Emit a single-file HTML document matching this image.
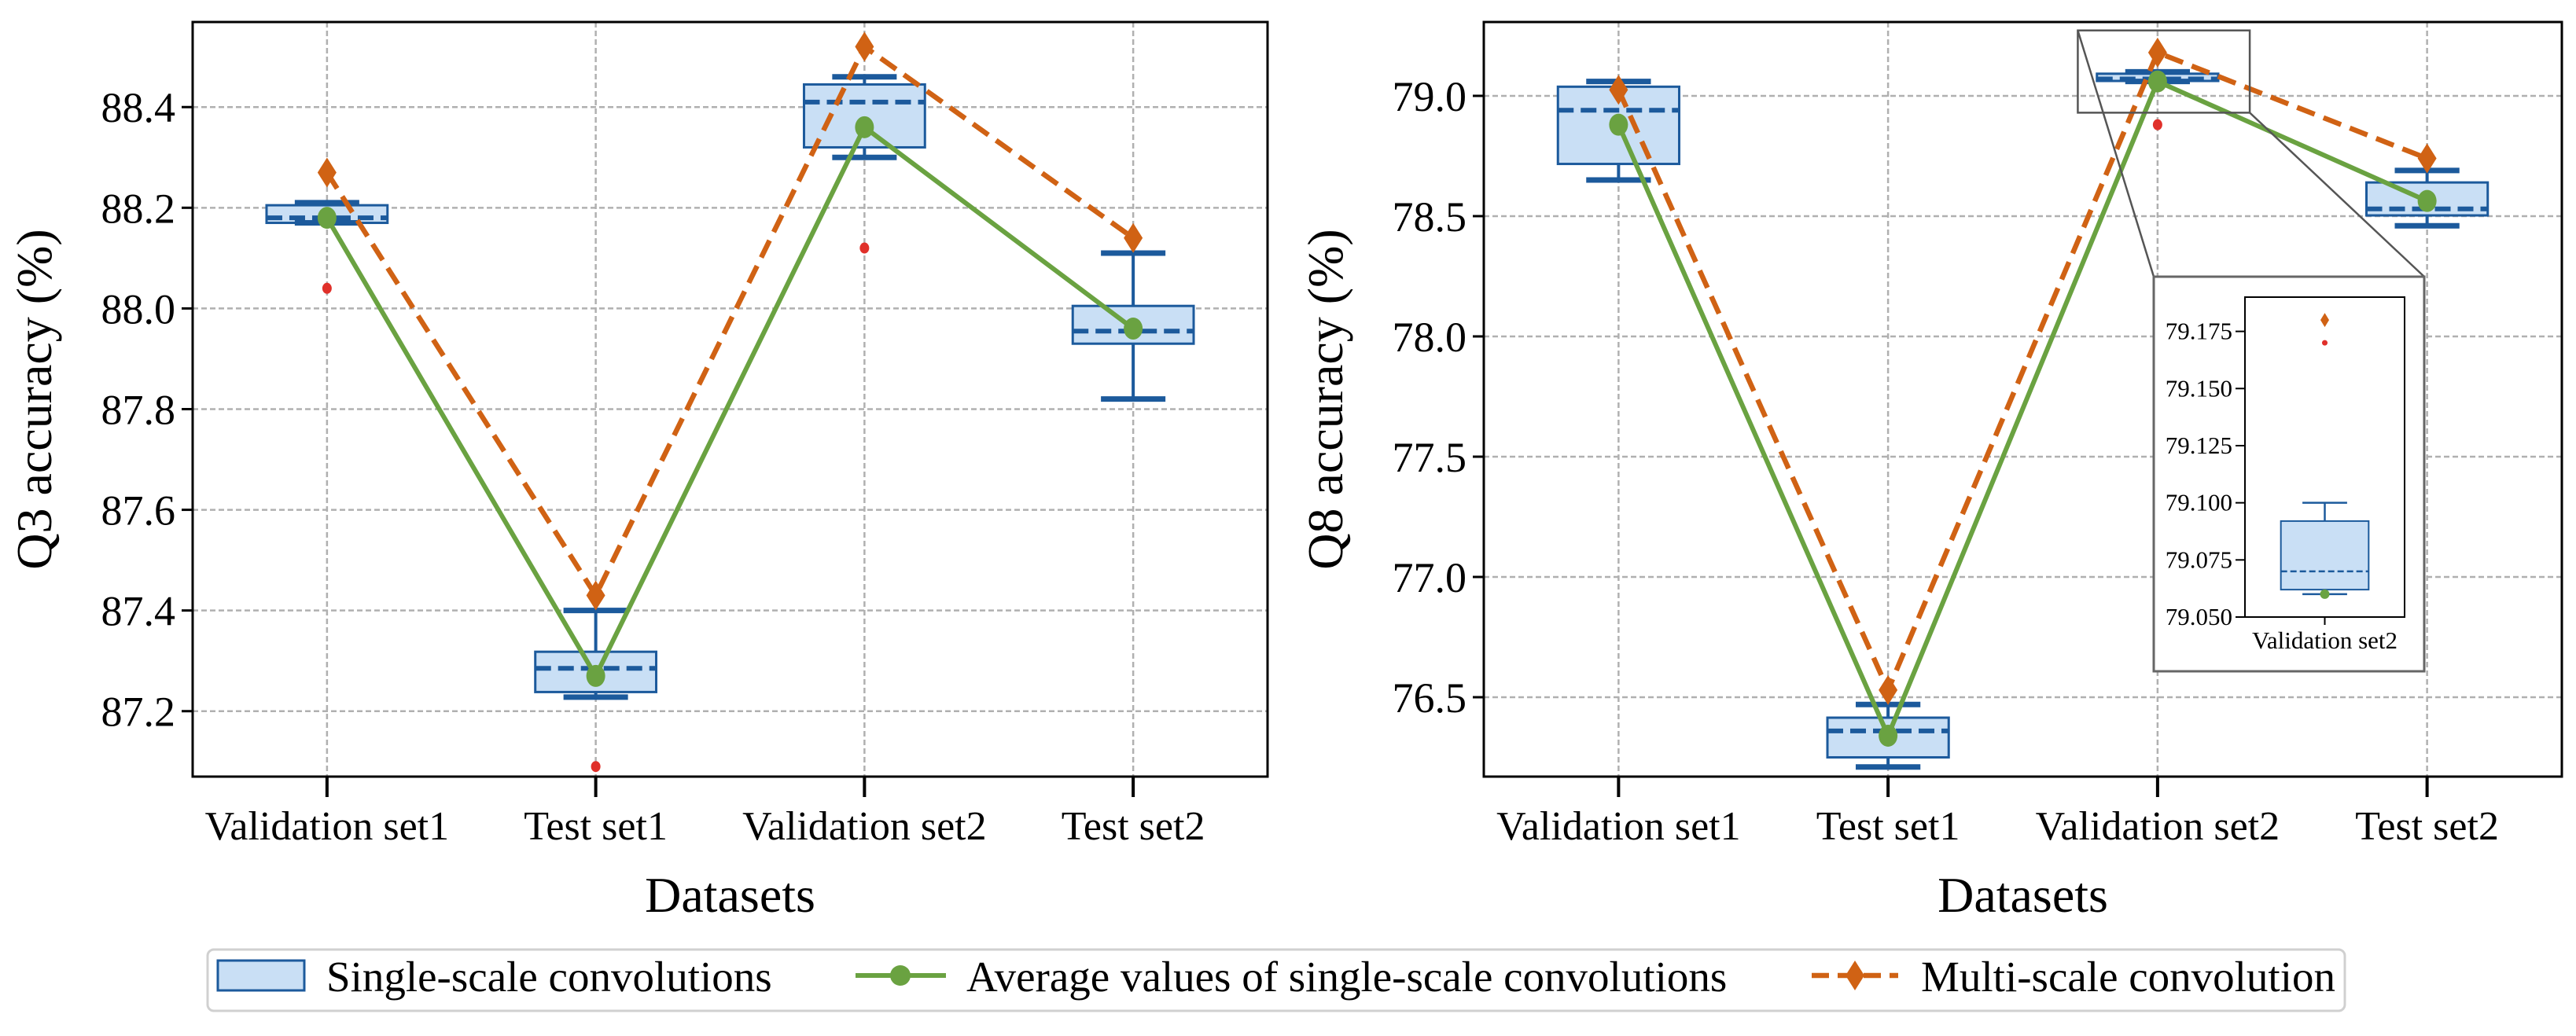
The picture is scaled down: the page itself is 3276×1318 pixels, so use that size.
<!DOCTYPE html>
<html><head><meta charset="utf-8">
<style>
html,body{margin:0;padding:0;background:#fff;}
svg{display:block;}
text{font-family:"Liberation Serif","Times New Roman",serif;}
</style></head>
<body>
<svg id="chart" width="3276" height="1318" viewBox="0 0 3276 1318" xmlns="http://www.w3.org/2000/svg" font-family="Liberation Serif, serif">
</svg>
<script>
// ---- data ----
const categories = ["Validation set1","Test set1","Validation set2","Test set2"];
// Q3 panel
const q3BoxLow = [88.170, 87.238, 88.320, 87.930];
const q3BoxHigh = [88.205, 87.318, 88.445, 88.005];
const q3Median = [88.180, 87.285, 88.410, 87.955];
const q3WhiskLow = [88.170, 87.228, 88.300, 87.820];
const q3WhiskHigh = [88.210, 87.400, 88.460, 88.110];
const q3Outlier = [88.04, 87.09, 88.12, null];
const q3Mean = [88.18, 87.27, 88.36, 87.96];
const q3Multi = [88.27, 87.43, 88.52, 88.14];
const q3Ticks = [87.2, 87.4, 87.6, 87.8, 88.0, 88.2, 88.4];
// Q8 panel
const q8BoxLow = [78.717, 76.250, 79.062, 78.503];
const q8BoxHigh = [79.038, 76.415, 79.092, 78.640];
const q8Median = [78.940, 76.360, 79.070, 78.530];
const q8WhiskLow = [78.650, 76.210, 79.060, 78.460];
const q8WhiskHigh = [79.060, 76.470, 79.100, 78.690];
const q8Outlier = [null, null, 78.88, null];
const q8Mean = [78.88, 76.34, 79.06, 78.563];
const q8Multi = [79.025, 76.53, 79.18, 78.74];
const q8Ticks = [76.5, 77.0, 77.5, 78.0, 78.5, 79.0];
// inset (Validation set2 zoom)
const insetTicks = [79.050, 79.075, 79.100, 79.125, 79.150, 79.175];
const insetOutlier = [79.17];

const NS = "http://www.w3.org/2000/svg";
const svg = document.getElementById("chart");
const FONT = '"Liberation Serif", "Times New Roman", serif';
function el(tag, attrs, parent, text){
  const e = document.createElementNS(NS, tag);
  for (const k in attrs) e.setAttribute(k, attrs[k]);
  if (text !== undefined) { e.textContent = text; e.style.fontFamily = FONT; }
  (parent || svg).appendChild(e);
  return e;
}
const BLUE="#1c5a9c", FILL="#c9dff5", GREEN="#6aa241", ORANGE="#d06214", RED="#e0302a", GRID="#b0b0b0";

function diamond(g, cx, cy, w, h, name){
  const p = el("polygon", {points:`${cx},${cy-h/2} ${cx+w/2},${cy} ${cx},${cy+h/2} ${cx-w/2},${cy}`, fill:ORANGE}, g);
  
  
}

function panel(opt){
  const {x0,x1,y0,y1,ymin,ymax,ticks,fmt,ylabel,d,name} = opt;
  const g = el("g", {}, svg);
  
  
  const xs = i => x0 + (i + 0.5) * (x1 - x0) / categories.length;
  const ys = v => y1 - (v - ymin) / (ymax - ymin) * (y1 - y0);
  const unit = (x1 - x0) / categories.length;
  ticks.forEach(t => {
    const l = el("line", {x1:x0, x2:x1, y1:ys(t), y2:ys(t), stroke:GRID, "stroke-width":2.5, "stroke-dasharray":"7 4"}, g);
    
    
    const tk = el("line", {x1:x0-14, x2:x0, y1:ys(t), y2:ys(t), stroke:"#000", "stroke-width":3}, g);
    
    
    const tl = el("text", {x:x0-22, y:ys(t)+19, "text-anchor":"end", "font-size":54}, g, fmt(t));
    
    
  });
  categories.forEach((c, i) => {
    const l = el("line", {x1:xs(i), x2:xs(i), y1:y0, y2:y1, stroke:GRID, "stroke-width":2.5, "stroke-dasharray":"7 4"}, g);
    
    
    const tk = el("line", {x1:xs(i), x2:xs(i), y1:y1, y2:y1+26, stroke:"#000", "stroke-width":4}, g);
    
    
    const tl = el("text", {x:xs(i), y:y1+80, "text-anchor":"middle", "font-size":52}, g, c);
    
    
  });
  categories.forEach((c, i) => {
    const cx = xs(i), bw = 0.45 * unit, cw = 0.24 * unit;
    const wl = el("line", {x1:cx, x2:cx, y1:ys(d.wh[i]), y2:ys(d.bh[i]), stroke:BLUE, "stroke-width":4}, g);
    
    
    const wl2 = el("line", {x1:cx, x2:cx, y1:ys(d.bl[i]), y2:ys(d.wl[i]), stroke:BLUE, "stroke-width":4}, g);
    
    
    const b = el("rect", {x:cx-bw/2, y:ys(d.bh[i]), width:bw, height:ys(d.bl[i])-ys(d.bh[i]), fill:FILL, stroke:BLUE, "stroke-width":3}, g);
    
    
    const m = el("line", {x1:cx-bw/2, x2:cx+bw/2, y1:ys(d.md[i]), y2:ys(d.md[i]), stroke:BLUE, "stroke-width":6, "stroke-dasharray":"20 9"}, g);
    
    
    [d.wh[i], d.wl[i]].forEach(v => {
      const cp = el("line", {x1:cx-cw/2, x2:cx+cw/2, y1:ys(v), y2:ys(v), stroke:BLUE, "stroke-width":7}, g);
      
      
    });
    if (d.out[i] !== null) {
      const o = el("ellipse", {cx:cx, cy:ys(d.out[i]), rx:6, ry:7, fill:RED}, g);
      
      
    }
  });
  const mp = d.multi.map((v, i) => `${xs(i)},${ys(v)}`).join(" ");
  const ml = el("polyline", {points:mp, fill:"none", stroke:ORANGE, "stroke-width":6.5, "stroke-dasharray":"24 12"}, g);
  
  
  const ap = d.mean.map((v, i) => `${xs(i)},${ys(v)}`).join(" ");
  const al = el("polyline", {points:ap, fill:"none", stroke:GREEN, "stroke-width":6}, g);
  
  
  d.multi.forEach((v, i) => diamond(g, xs(i), ys(v), 24, 38, 'multi-scale-marker'));
  d.mean.forEach((v, i) => {
    const c = el("ellipse", {cx:xs(i), cy:ys(v), rx:12, ry:14, fill:GREEN}, g);
    
    
  });
  const f = el("rect", {x:x0, y:y0, width:x1-x0, height:y1-y0, fill:"none", stroke:"#000", "stroke-width":3}, g);
  
  
  const xl = el("text", {x:(x0+x1)/2, y:1160, "text-anchor":"middle", "font-size":64}, g, "Datasets");
  
  
  const yx = x0 - 180, yy = (y0 + y1) / 2;
  const yl = el("text", {x:yx, y:yy, "text-anchor":"middle", "font-size":64, transform:`rotate(-90 ${yx} ${yy})`}, g, ylabel);
  
  
  return {xs, ys, g};
}

panel({x0:245, x1:1612, y0:28, y1:988, ymin:87.070, ymax:88.569, ticks:q3Ticks, fmt:t=>t.toFixed(1),
  ylabel:"Q3 accuracy (%)", name:"q3-panel",
  d:{bl:q3BoxLow, bh:q3BoxHigh, md:q3Median, wl:q3WhiskLow, wh:q3WhiskHigh, out:q3Outlier, mean:q3Mean, multi:q3Multi}});
const p2 = panel({x0:1887, x1:3258, y0:28, y1:988, ymin:76.17, ymax:79.307, ticks:q8Ticks, fmt:t=>t.toFixed(1),
  ylabel:"Q8 accuracy (%)", name:"q8-panel",
  d:{bl:q8BoxLow, bh:q8BoxHigh, md:q8Median, wl:q8WhiskLow, wh:q8WhiskHigh, out:q8Outlier, mean:q8Mean, multi:q8Multi}});

// ---- inset ----
(function(){
  const g = el("g", {}, svg);
  
  
  const rx0 = p2.xs(1.704), rx1 = p2.xs(2.342), ry0 = p2.ys(79.272), ry1 = p2.ys(78.93);
  const zr = el("rect", {x:rx0, y:ry0, width:rx1-rx0, height:ry1-ry0, fill:"none", stroke:"#555", "stroke-width":2.5}, g);
  
  
  const ox0=2739, ox1=3083, oy0=352, oy1=854;
  const c1 = el("line", {x1:rx0, y1:ry0, x2:ox0, y2:oy0, stroke:"#555", "stroke-width":2.5}, g);
  
  
  const c2 = el("line", {x1:rx1, y1:ry1, x2:ox1, y2:oy0, stroke:"#555", "stroke-width":2.5}, g);
  
  
  const ob = el("rect", {x:ox0, y:oy0, width:ox1-ox0, height:oy1-oy0, fill:"#fff", stroke:"#666", "stroke-width":3}, g);
  
  
  const ix0=2855, ix1=3058, iy0=378, iy1=785, ymin=79.05, ymax=79.190;
  const ys = v => iy1 - (v - ymin) / (ymax - ymin) * (iy1 - iy0);
  const cx = (ix0 + ix1) / 2, w = ix1 - ix0;
  insetTicks.forEach(t => {
    const tk = el("line", {x1:ix0-12, x2:ix0, y1:ys(t), y2:ys(t), stroke:"#000", "stroke-width":2}, g);
    
    
    const tl = el("text", {x:ix0-16, y:ys(t)+10, "text-anchor":"end", "font-size":31}, g, t.toFixed(3));
    
    
  });
  const i = 2;
  const bw = 0.55 * w, cw = 0.28 * w;
  const w1 = el("line", {x1:cx, x2:cx, y1:ys(q8WhiskHigh[i]), y2:ys(q8BoxHigh[i]), stroke:BLUE, "stroke-width":2.5}, g);
  
  
  const b = el("rect", {x:cx-bw/2, y:ys(q8BoxHigh[i]), width:bw, height:ys(q8BoxLow[i])-ys(q8BoxHigh[i]), fill:FILL, stroke:BLUE, "stroke-width":2}, g);
  
  
  const m = el("line", {x1:cx-bw/2, x2:cx+bw/2, y1:ys(q8Median[i]), y2:ys(q8Median[i]), stroke:BLUE, "stroke-width":2.5, "stroke-dasharray":"8 4"}, g);
  
  
  [q8WhiskHigh[i], q8WhiskLow[i]].forEach(v => {
    const cp = el("line", {x1:cx-cw/2, x2:cx+cw/2, y1:ys(v), y2:ys(v), stroke:BLUE, "stroke-width":2.5}, g);
    
    
  });
  insetOutlier.forEach(v => {
    const o = el("circle", {cx:cx, cy:ys(v), r:3.5, fill:RED}, g);
    
    
  });
  diamond(g, cx, ys(q8Multi[i]), 11, 18, 'inset-multi-marker');
  const gm = el("circle", {cx:cx, cy:ys(q8Mean[i]), r:6, fill:GREEN}, g);
  
  
  const f = el("rect", {x:ix0, y:iy0, width:w, height:iy1-iy0, fill:"none", stroke:"#000", "stroke-width":2}, g);
  
  
  const xt = el("line", {x1:cx, x2:cx, y1:iy1, y2:iy1+10, stroke:"#000", "stroke-width":2}, g);
  
  
  const xl = el("text", {x:cx, y:iy1+40, "text-anchor":"middle", "font-size":31}, g, "Validation set2");
  
  
})();

// ---- legend ----
(function(){
  const g = el("g", {}, svg);
  
  
  const fr = el("rect", {x:264, y:1208, width:2718, height:78, rx:8, fill:"#fff", stroke:"#d0d0d0", "stroke-width":3}, g);
  
  
  const p = el("rect", {x:277, y:1222, width:110, height:38, fill:FILL, stroke:BLUE, "stroke-width":3}, g);
  
  
  const t1 = el("text", {x:415, y:1261, "font-size":55}, g, "Single-scale convolutions");
  
  
  const gl = el("line", {x1:1088, x2:1203, y1:1241, y2:1241, stroke:GREEN, "stroke-width":6}, g);
  
  
  const gc = el("circle", {cx:1145, cy:1241, r:13, fill:GREEN}, g);
  
  
  const t2 = el("text", {x:1229, y:1261, "font-size":55}, g, "Average values of single-scale convolutions");
  
  
  const ol = el("line", {x1:2304, x2:2414, y1:1241, y2:1241, stroke:ORANGE, "stroke-width":6.5, "stroke-dasharray":"22 11"}, g);
  
  
  diamond(g, 2359, 1241, 24, 38, 'legend-multi-marker');
  const t3 = el("text", {x:2443, y:1261, "font-size":55}, g, "Multi-scale convolution");
  
  
})();
</script>
</body></html>
